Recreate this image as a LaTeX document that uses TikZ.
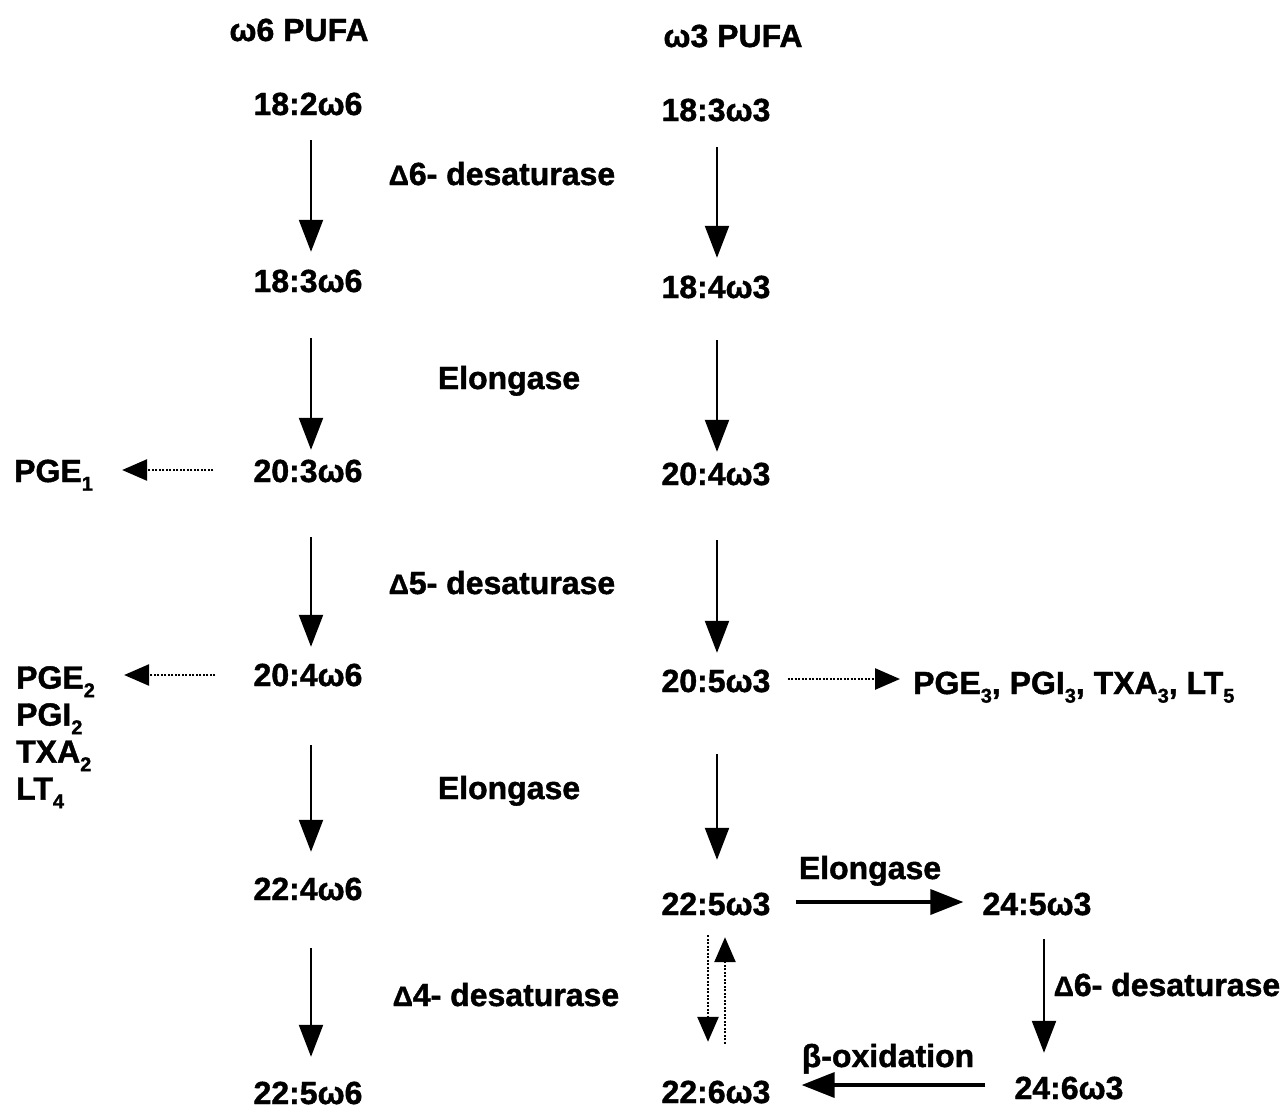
\documentclass[tikz,border=0pt]{standalone}
\usepackage{fontspec}
\setmainfont{Liberation Sans}[BoldFeatures={FakeBold=1.3}]
\usetikzlibrary{arrows.meta}
\newcommand{\lsub}[1]{\raisebox{-0.27em}{\fontsize{20}{20}\selectfont #1}}
\newcommand{\dlt}{{\fontsize{28}{28}\selectfont Δ}}
\begin{document}
\begin{tikzpicture}[x=1pt,y=-1pt,
  every node/.style={font=\fontsize{32}{37}\selectfont\bfseries, inner sep=0pt},
  fa/.style={text height=22pt, text depth=0pt},
  lab/.style={text height=22pt, text depth=0pt},
  varrow/.style={line width=2.2pt, -{Triangle[width=24pt,length=32pt]}},
  harrow/.style={line width=3.6pt, -{Triangle[width=25pt,length=33pt]}},
  darrow/.style={line width=2.6pt, dash pattern=on 2.2pt off 1.3pt, -{Triangle[width=21pt,length=25pt]}},
]
\useasboundingbox (0,0) rectangle (1286,1109);
\fill[white] (0,0) rectangle (1286,1109);

% headers
\node[lab] (h6) at (299,30) {ω6 PUFA};
\node[lab] (h3) at (733,36) {ω3 PUFA};

% omega-6 column
\node[fa] (L1) at (308,104) {18:2ω6};
\node[fa] (L2) at (308,281) {18:3ω6};
\node[fa] (L3) at (308,471) {20:3ω6};
\node[fa] (L4) at (308,675) {20:4ω6};
\node[fa] (L5) at (308,889) {22:4ω6};
\node[fa] (L6) at (308,1093) {22:5ω6};

% omega-3 column
\node[fa] (R1) at (716,110) {18:3ω3};
\node[fa] (R2) at (716,287) {18:4ω3};
\node[fa] (R3) at (716,474) {20:4ω3};
\node[fa] (R4) at (716,681) {20:5ω3};
\node[fa] (R5) at (716,904) {22:5ω3};
\node[fa] (R6) at (716,1092) {22:6ω3};
\node[fa] (E1) at (1037,904) {24:5ω3};
\node[fa] (E2) at (1069,1088) {24:6ω3};

% enzyme labels
\node[lab] (en1) at (502,174) {\dlt6- desaturase};
\node[lab] (en2) at (509,378) {Elongase};
\node[lab] (en3) at (502,583) {\dlt5- desaturase};
\node[lab] (en4) at (509,788) {Elongase};
\node[lab] (en5) at (506,995) {\dlt4- desaturase};
\node[lab] (en6) at (870,868) {Elongase};
\node[lab] (en7) at (1167,985) {\dlt6- desaturase};
\node[lab] (en8) at (888,1056) {β-oxidation};

% products
\node[lab, anchor=west] (pge1) at (14,471) {PGE\lsub{1}};
\node[anchor=north west, align=left, font=\fontsize{32}{37}\selectfont\bfseries] (pge2) at (16,666)
  {PGE\lsub{2}\\PGI\lsub{2}\\TXA\lsub{2}\\LT\lsub{4}};
\node[lab, anchor=west] (pge3) at (913,683) {PGE\lsub{3}, PGI\lsub{3}, TXA\lsub{3}, LT\lsub{5}};

% left column arrows
\draw[varrow, shorten <=25pt, shorten >=18pt] ([xshift=3]L1.south) -- ([xshift=3]L2.north);
\draw[varrow, shorten <=46pt, shorten >=10pt] ([xshift=3]L2.south) -- ([xshift=3]L3.north);
\draw[varrow, shorten <=55pt, shorten >=17pt] ([xshift=3]L3.south) -- ([xshift=3]L4.north);
\draw[varrow, shorten <=59pt, shorten >=26pt] ([xshift=3]L4.south) -- ([xshift=3]L5.north);
\draw[varrow, shorten <=48pt, shorten >=25pt] ([xshift=3]L5.south) -- ([xshift=3]L6.north);

% right column arrows
\draw[varrow, shorten <=26pt, shorten >=18pt] ([xshift=1]R1.south) -- ([xshift=1]R2.north);
\draw[varrow, shorten <=42pt, shorten >=11pt] ([xshift=1]R2.south) -- ([xshift=1]R3.north);
\draw[varrow, shorten <=55pt, shorten >=17pt] ([xshift=1]R3.south) -- ([xshift=1]R4.north);
\draw[varrow, shorten <=62pt, shorten >=33pt] ([xshift=1]R4.south) -- ([xshift=1]R5.north);

% retroconversion pair (dotted)
\draw[darrow, shorten <=20pt, shorten >=39pt] ([xshift=-8]R5.south) -- ([xshift=-8]R6.north);
\draw[darrow, shorten <=37pt, shorten >=22pt] ([xshift=9]R6.north) -- ([xshift=9]R5.south);

% elongation / desaturation / beta-oxidation loop
\draw[harrow, shorten <=25pt, shorten >=19pt] ([yshift=2]R5.east) -- ([yshift=2]E1.west);
\draw[varrow, shorten <=24pt, shorten >=24pt] ([xshift=7]E1.south) -- ([xshift=7]E1.south |- E2.north);
\draw[harrow, shorten <=29pt, shorten >=31pt] ([yshift=3]E2.west) -- ([yshift=3]E2.west -| R6.east);

% eicosanoid arrows (dotted)
\draw[darrow, shorten <=40pt, shorten >=29pt] ([yshift=1]L3.west) -- ([yshift=1]L3.west -| pge1.east);
\draw[darrow, shorten <=38pt, shorten >=29pt] (L4.west) -- (L4.west -| pge2.east);
\draw[darrow, shorten <=17pt, shorten >=13pt] ([yshift=2]R4.east) -- ([yshift=2]R4.east -| pge3.west);
\end{tikzpicture}
\end{document}
